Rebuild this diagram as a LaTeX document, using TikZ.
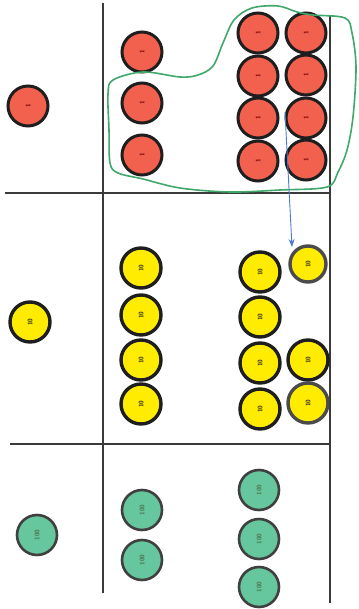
\documentclass[tikz,border=0pt]{standalone}
\usetikzlibrary{arrows.meta}
\definecolor{cred}{HTML}{F2604E}
\definecolor{cyel}{HTML}{FFEC00}
\definecolor{cgrn}{HTML}{66C79E}
\definecolor{rim}{HTML}{1E1E1E}
\definecolor{gridc}{HTML}{3A3A3A}
\definecolor{loopc}{HTML}{3FA86A}
\definecolor{arrc}{HTML}{4A7BD6}
\tikzset{
  x=1pt, y=-1pt,
  counter/.style={circle, minimum size=40pt, inner sep=0pt, line width=3pt, draw=rim, font=\sffamily\bfseries\fontsize{6.5}{6.5}\selectfont, rotate=90},
  onec/.style={counter, fill=cred, text=red!45!black},
  tenc/.style={counter, fill=cyel, text=black!85, line width=3.4pt},
  hunc/.style={counter, fill=cgrn, draw=rim!85, line width=2.6pt, text=green!20!black!70},
  gridline/.style={draw=gridc, line width=2.8pt},
  loopline/.style={draw=loopc, line width=1.6pt},
  arrline/.style={draw=arrc, line width=0.9pt, -{Stealth[length=8pt,width=6pt]}}
}
\begin{document}
\begin{tikzpicture}
\useasboundingbox (0,0) rectangle (358,609);
% grid
\draw[gridline] (103,3) -- (103,593);
\draw[gridline] (330,16) -- (330,603);
\draw[gridline] (5,193) -- (330,193);
\draw[gridline] (10,444) -- (330,444);
% ones
\node[onec] (r0) at (28,106) {1};
\node[onec] (r1) at (142,52) {1};
\node[onec] (r2) at (142,103) {1};
\node[onec] (r3) at (142,155) {1};
\node[onec] (r4) at (258,33) {1};
\node[onec] (r5) at (258,76) {1};
\node[onec] (r6) at (258,118) {1};
\node[onec] (r7) at (258,161) {1};
\node[onec] (r8) at (306,33) {1};
\node[onec] (r9) at (306,75) {1};
\node[onec] (r10) at (306,118) {1};
\node[onec] (r11) at (306,160) {1};
% loop
\draw[loopline] plot[smooth cycle, tension=0.55] coordinates {
 (180,77) (143,72) (113,80) (108,94) (109,130) (110,163) (118,173) (143,179) (180,188)
 (230,192) (280,190) (327,187) (338,172) (347,150) (353,117) (356,67) (352,33) (345,18)
 (313,15) (297,12) (278,6) (252,8) (234,20) (223,43) (213,66) (198,75)};
% tens
\node[tenc] (y0) at (30,322) {10};
\node[tenc] (y1) at (141,268) {10};
\node[tenc] (y2) at (141,315) {10};
\node[tenc] (y3) at (141,360) {10};
\node[tenc] (y4) at (141,404) {10};
\node[tenc] (y5) at (260,272) {10};
\node[tenc] (y6) at (260,317) {10};
\node[tenc] (y7) at (260,363) {10};
\node[tenc] (y8) at (260,409) {10};
\node[tenc, minimum size=36pt, draw=rim!80] (y9) at (308,264) {10};
\node[tenc] (y10) at (308,360) {10};
\node[tenc, draw=rim!80] (y11) at (308,403) {10};
% hundreds
\node[hunc] (g0) at (37,535) {100};
\node[hunc] (g1) at (142,510) {100};
\node[hunc] (g2) at (142,560) {100};
\node[hunc] (g3) at (259,490) {100};
\node[hunc] (g4) at (259,539) {100};
\node[hunc] (g5) at (259,587) {100};
% arrow
\coordinate (as) at (285,112);
\coordinate (ae) at (292,247);
\draw[arrline] (as) -- (ae);
\end{tikzpicture}
\end{document}
